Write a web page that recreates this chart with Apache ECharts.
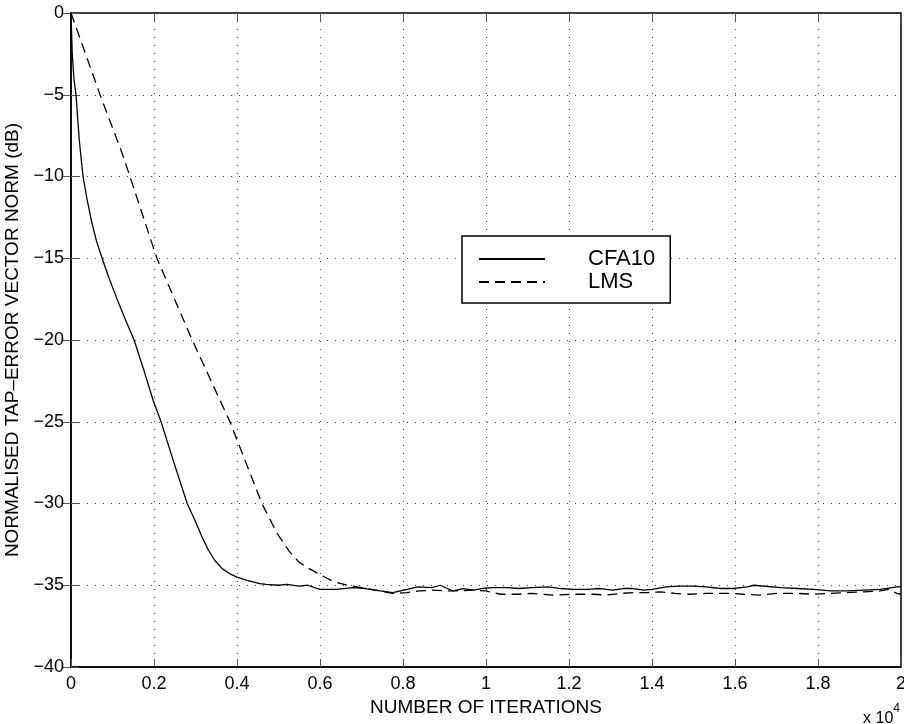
<!DOCTYPE html>
<html>
<head>
<meta charset="utf-8">
<script src="https://cdn.jsdelivr.net/npm/echarts@6/dist/echarts.min.js"></script>
<style>
  html, body { margin: 0; padding: 0; background: #fff; }
  #chart { width: 904px; height: 724px; }
</style>
</head>
<body>
<div id="chart"></div>
<script>
// iterations are in units of 10^4
const seriesNames = ['CFA10', 'LMS'];

const cfaIter = [0, 0.003, 0.007, 0.012, 0.02, 0.029, 0.038, 0.05, 0.062, 0.075, 0.09, 0.111, 0.132, 0.152,
  0.175, 0.198, 0.217, 0.248, 0.28, 0.298, 0.315, 0.33, 0.347, 0.365, 0.383, 0.4, 0.424, 0.455,
  0.47, 0.5, 0.52, 0.55, 0.57, 0.6, 0.64, 0.68, 0.71, 0.745, 0.775,
  0.81, 0.835, 0.87, 0.89, 0.92, 0.945, 0.97, 0.99, 1.015, 1.05, 1.08, 1.11, 1.15, 1.18, 1.21, 1.245,
  1.275, 1.305, 1.33, 1.355, 1.38, 1.4, 1.435, 1.465, 1.5, 1.53, 1.565, 1.595, 1.63, 1.645, 1.71, 1.75,
  1.79, 1.83, 1.87, 1.91, 1.95, 1.99, 2.0];
const cfaDb = [0, -2.5, -4, -5, -7.8, -10, -11.3, -12.8, -14, -15, -16.1, -17.5, -18.8, -20,
  -21.8, -23.7, -25, -27.5, -30, -31, -32, -32.8, -33.5, -34.0, -34.3, -34.5, -34.7, -34.9,
  -34.95, -35.0, -34.95, -35.05, -35.0, -35.25, -35.25, -35.15, -35.2, -35.35, -35.45,
  -35.25, -35.1, -35.15, -35.0, -35.35, -35.2, -35.3, -35.2, -35.15, -35.15, -35.2, -35.15, -35.1, -35.2, -35.25, -35.25,
  -35.2, -35.3, -35.2, -35.2, -35.3, -35.25, -35.1, -35.05, -35.05, -35.1, -35.2, -35.2, -35.1, -35.0, -35.15, -35.2,
  -35.25, -35.35, -35.35, -35.3, -35.25, -35.1, -35.1];

const lmsIter = [0, 0.07, 0.123, 0.142, 0.207, 0.292, 0.383, 0.46, 0.496, 0.525, 0.55, 0.575, 0.6, 0.63, 0.665, 0.7,
  0.745, 0.775, 0.81, 0.84, 0.87, 0.92, 0.97, 1.0, 1.035, 1.075, 1.11, 1.16, 1.21, 1.26, 1.29, 1.325,
  1.355, 1.39, 1.42, 1.455, 1.49, 1.53, 1.56, 1.59, 1.62, 1.66, 1.7, 1.75, 1.79, 1.83, 1.87, 1.91,
  1.95, 1.97, 1.99, 2.0];
const lmsDb = [0, -5, -8.56, -10, -15, -20, -25, -30, -31.8, -32.9, -33.6, -34.0, -34.35, -34.75, -35.0, -35.15,
  -35.35, -35.5, -35.45, -35.35, -35.3, -35.35, -35.3, -35.35, -35.55, -35.55, -35.5, -35.6, -35.55, -35.55, -35.6, -35.5,
  -35.45, -35.45, -35.4, -35.5, -35.55, -35.5, -35.5, -35.5, -35.55, -35.6, -35.5, -35.5, -35.55, -35.5, -35.45, -35.4,
  -35.35, -35.25, -35.5, -35.55];

const xTicks = { min: 0, max: 2, interval: 0.2 };
const yTicks = { min: -40, max: 0, interval: 5 };

function zip(xs, ys) {
  return xs.map(function (x, i) { return [x, ys[i]]; });
}

const font = "'Liberation Sans', Arial, sans-serif";
const gridLine = { show: true, lineStyle: { color: '#444', type: [1, 7], width: 1 } };
const innerTick = { show: true, inside: true, length: 8, lineStyle: { color: '#555' } };

let chart = echarts.init(document.getElementById('chart'), null, { renderer: 'canvas' });

chart.setOption({
  backgroundColor: '#fff',
  animation: false,
  textStyle: { fontFamily: font },
  grid: {
    left: 71, top: 13, right: 3, bottom: 57,
    outerBoundsMode: 'none',
    show: true, borderColor: '#000', borderWidth: 1.5
  },
  legend: {
    data: seriesNames,
    orient: 'vertical',
    left: 462,
    top: 236,
    backgroundColor: '#fff',
    borderColor: '#000',
    borderWidth: 1.5,
    borderRadius: 0,
    padding: [12, 15, 10, 16],
    itemGap: 1,
    itemWidth: 66,
    itemHeight: 14,
    // hide the marker dot, keep only the line sample
    itemStyle: { opacity: 0 },
    textStyle: { fontFamily: font, fontSize: 22, color: '#000', padding: [0, 0, 0, 38] }
  },
  xAxis: [{
    type: 'value',
    min: xTicks.min, max: xTicks.max, interval: xTicks.interval,
    name: 'NUMBER OF ITERATIONS',
    nameLocation: 'middle',
    nameGap: 31,
    nameTextStyle: { fontSize: 19, color: '#000', fontFamily: font },
    axisLine: { show: true, onZero: false, lineStyle: { color: '#000', width: 1.5 } },
    axisTick: innerTick,
    axisLabel: {
      fontSize: 18, color: '#000', margin: 8, fontFamily: font,
      formatter: function (v) { return String(Math.round(v * 10) / 10); }
    },
    splitLine: gridLine
  }, {
    type: 'value', position: 'top',
    min: xTicks.min, max: xTicks.max, interval: xTicks.interval,
    axisLine: { show: false },
    axisTick: innerTick,
    axisLabel: { show: false },
    splitLine: { show: false }
  }],
  yAxis: [{
    type: 'value',
    min: yTicks.min, max: yTicks.max, interval: yTicks.interval,
    name: 'NORMALISED TAP\u2013ERROR VECTOR NORM (dB)',
    nameLocation: 'middle',
    nameGap: 41,
    nameTextStyle: { fontSize: 19, color: '#000', fontFamily: font },
    axisLine: { show: true, onZero: false, lineStyle: { color: '#000', width: 1.5 } },
    axisTick: innerTick,
    axisLabel: {
      fontSize: 18, color: '#000', margin: 7, fontFamily: font,
      formatter: function (v) { return String(v).replace('-', '\u2212'); }
    },
    splitLine: gridLine
  }, {
    type: 'value', position: 'right',
    min: yTicks.min, max: yTicks.max, interval: yTicks.interval,
    axisLine: { show: false },
    axisTick: innerTick,
    axisLabel: { show: false },
    splitLine: { show: false }
  }],
  graphic: [{
    type: 'text',
    right: 4,
    top: 703,
    style: {
      text: '{b|x 10}{s|4}',
      rich: {
        b: { fontSize: 16, fontFamily: font, fill: '#000', padding: [8, 0, 0, 0] },
        s: { fontSize: 12, fontFamily: font, fill: '#000', verticalAlign: 'top' }
      }
    }
  }],
  series: [{
    name: seriesNames[0],
    type: 'line',
    symbol: 'none',
    data: zip(cfaIter, cfaDb),
    itemStyle: { color: '#000' },
    lineStyle: { color: '#000', width: 1.3, type: 'solid' },
    z: 3
  }, {
    name: seriesNames[1],
    type: 'line',
    symbol: 'none',
    data: zip(lmsIter, lmsDb),
    itemStyle: { color: '#000' },
    lineStyle: { color: '#000', width: 1.3, type: [10, 6] },
    z: 2
  }]
});
</script>
</body>
</html>
